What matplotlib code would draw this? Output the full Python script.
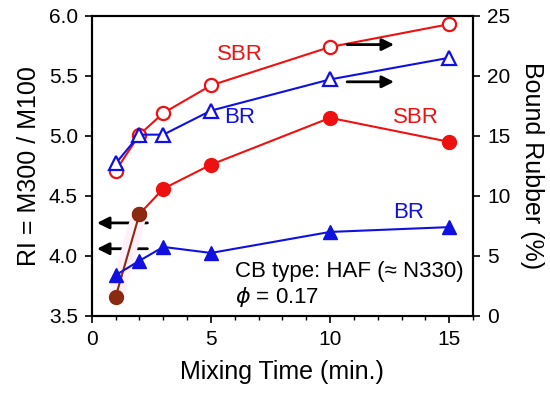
import numpy as np
import matplotlib.pyplot as plt

plt.rcParams['font.family'] = ['Liberation Sans', 'DejaVu Sans']

# Mixing time (min.)
mix_time = [1, 2, 3, 5, 10, 15]

# RI = M300 / M100 (left axis, open markers)
ri_sbr = [4.71, 5.01, 5.19, 5.42, 5.74, 5.93]
ri_br = [4.77, 5.01, 5.01, 5.21, 5.47, 5.65]

# Bound rubber (%) (right axis, filled markers)
bound_sbr = [1.6, 8.5, 10.6, 12.6, 16.5, 14.5]
bound_br = [3.4, 4.6, 5.75, 5.25, 7.0, 7.4]

RED = '#ee1111'
BLUE = '#1010e0'
BROWN = '#8a2a10'

fig, ax = plt.subplots(figsize=(5.5, 3.94), dpi=100)
fig.subplots_adjust(left=0.167, right=0.86, top=0.96, bottom=0.198)
ax2 = ax.twinx()

# RI curves
ax.plot(mix_time, ri_sbr, '-o', color=RED, mfc='white', mec=RED, ms=9.5, mew=1.6, lw=1.5, zorder=3)
ax.plot(mix_time, ri_br, '-^', color=BLUE, mfc='white', mec=BLUE, ms=9.5, mew=1.6, lw=1.5, zorder=4)

# bound rubber curves
ax2.plot(mix_time[:2], bound_sbr[:2], color='#fdf0f8', lw=11, solid_capstyle='butt', zorder=1)
ax2.plot(mix_time[1:], bound_sbr[1:], '-o', color=RED, ms=10, lw=1.5, zorder=3)
ax2.plot(mix_time[:2], bound_sbr[:2], '-o', color=BROWN, ms=10, lw=1.5, zorder=4)
ax2.plot(mix_time, bound_br, '-^', color=BLUE, ms=10, lw=1.5, zorder=5)

ax.set_xlim(0, 16)
ax.set_ylim(3.5, 6.0)
ax2.set_ylim(0, 25)
ax.set_xticks([0, 5, 10, 15])
ax.set_xticks(np.arange(0, 17, 1), minor=True)
ax.set_yticks(np.arange(3.5, 6.01, 0.5))
ax.yaxis.set_major_formatter(plt.FormatStrFormatter('%.1f'))
ax2.set_yticks([0, 5, 10, 15, 20, 25])

for a in (ax, ax2):
    a.tick_params(axis='both', which='major', labelsize=15, direction='out', length=5, width=1.2, pad=5)
    a.tick_params(axis='both', which='minor', direction='out', length=3, width=1)
    for s in a.spines.values():
        s.set_linewidth(1.5)

ax.set_xlabel('Mixing Time (min.)', fontsize=18, labelpad=8)
ax.set_ylabel('RI = M300 / M100', fontsize=18, labelpad=6)
ax2.set_ylabel('Bound Rubber (%)', fontsize=18, rotation=270, labelpad=24)

# arrows pointing to the axes
arrow = dict(arrowstyle='-|>', color='black', lw=2, mutation_scale=18)
ax.annotate('', xy=(0.1, 4.275), xytext=(2.45, 4.275), arrowprops=arrow)
ax.annotate('', xy=(0.1, 4.06), xytext=(2.45, 4.06), arrowprops=arrow)
ax.annotate('', xy=(12.8, 5.76), xytext=(10.6, 5.76), arrowprops=arrow)
ax.annotate('', xy=(12.8, 5.45), xytext=(10.6, 5.45), arrowprops=arrow)

ax.text(6.2, 5.68, 'SBR', color=RED, fontsize=16, ha='center', va='center')
ax.text(6.2, 5.15, 'BR', color=BLUE, fontsize=16, ha='center', va='center')
ax.text(13.6, 5.15, 'SBR', color=RED, fontsize=16, ha='center', va='center')
ax.text(13.3, 4.36, 'BR', color=BLUE, fontsize=16, ha='center', va='center')

ax.text(6.0, 3.87, 'CB type: HAF (≈ N330)', fontsize=16, ha='left', va='center')
ax.text(6.0, 3.66, r'$\phi$ = 0.17', fontsize=16, ha='left', va='center')

fig.savefig('out.png', dpi=100)
